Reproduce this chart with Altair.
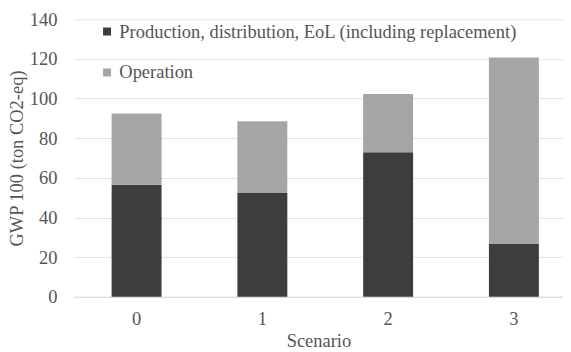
import altair as alt
import pandas as pd

scenarios = ["0", "1", "2", "3"]
production = [56.5, 52.3, 72.9, 26.6]
operation = [36.0, 36.2, 29.4, 94.1]
series = ["Production, distribution, EoL (including replacement)", "Operation"]
colors = ["#3d3d3d", "#a5a5a5"]

rows = []
for s, p, o in zip(scenarios, production, operation):
    rows.append({"Scenario": s, "Series": series[0], "value": p, "order": 0})
    rows.append({"Scenario": s, "Series": series[1], "value": o, "order": 1})
df = pd.DataFrame(rows)

font = "Liberation Serif"
txt = "#555555"
fs = 18.5

chart = alt.Chart(df).mark_bar().encode(
    x=alt.X("Scenario:N", sort=scenarios,
            scale=alt.Scale(paddingInner=0.603, paddingOuter=0.246, align=0.61),
            axis=alt.Axis(title="Scenario", labelAngle=0, ticks=False, domainColor="#d9d9d9",
                          labelPadding=13, titlePadding=3,
                          labelFont=font, titleFont=font, labelFontSize=fs, titleFontSize=fs,
                          labelColor=txt, titleColor=txt, titleFontWeight="normal")),
    y=alt.Y("value:Q", stack="zero",
            scale=alt.Scale(domain=[0, 140], nice=False),
            axis=alt.Axis(title="GWP 100 (ton CO2-eq)", values=list(range(0, 141, 20)),
                          ticks=False, domain=False, gridColor="#e3e3e3", labelPadding=17,
                          titlePadding=3,
                          labelFont=font, titleFont=font, labelFontSize=fs, titleFontSize=fs,
                          labelColor=txt, titleColor=txt, titleFontWeight="normal")),
    color=alt.Color("Series:N", sort=series,
                    scale=alt.Scale(domain=series, range=colors),
                    legend=alt.Legend(title=None, orient="none", legendX=24, legendY=3,
                                      symbolType="square", symbolSize=64, symbolStrokeWidth=0,
                                      rowPadding=22, labelFontSize=fs, labelFont=font,
                                      labelColor=txt, labelLimit=600, labelOffset=3)),
    order=alt.Order("order:Q"),
).properties(
    width=490, height=278,
    autosize=alt.AutoSizeParams(type="none"),
    padding={"left": 66, "top": 11, "right": 0, "bottom": 55},
).configure_view(stroke=None)

chart.save("out.html", embed_options={"renderer": "svg", "actions": False})
